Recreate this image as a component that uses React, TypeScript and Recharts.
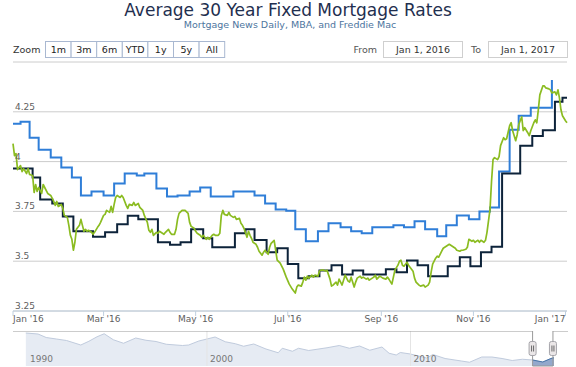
import { LineChart, Line, XAxis, YAxis, CartesianGrid, AreaChart, Area, ReferenceLine, ReferenceDot } from 'recharts'

const FONT = '"DejaVu Sans", Verdana, sans-serif'

// x = days since Jan 1, 2016
const monthTicks = [0, 60, 121, 182, 244, 305, 366]
const monthLabels = ["Jan '16", "Mar '16", "May '16", "Jul '16", "Sep '16", "Nov '16", "Jan '17"]
const rateTicks = [3.25, 3.5, 3.75, 4, 4.25, 4.5]

// MBA weekly (blue), Freddie Mac weekly (black) – step series, [day, rate]
const mbaSeries: [number, number][] = [
  [0, 4.19], [5, 4.2], [11, 4.12], [17, 4.06], [25, 4.02], [32, 3.97], [39, 3.92], [45, 3.83], [52, 3.85], [60, 3.83],
  [67, 3.89], [74, 3.94], [82, 3.93], [87, 3.94], [95, 3.865], [102, 3.825], [109, 3.83], [117, 3.85], [124, 3.87], [131, 3.825],
  [146, 3.85], [160, 3.83], [167, 3.79], [174, 3.76], [181, 3.753], [187, 3.66], [194, 3.6], [202, 3.65], [209, 3.69], [217, 3.67],
  [224, 3.65], [231, 3.64], [238, 3.67], [252, 3.68], [259, 3.67], [266, 3.7], [273, 3.66], [281, 3.625], [287, 3.68], [294, 3.73],
  [302, 3.71], [309, 3.75], [316, 3.77], [322, 3.95], [329, 4.16], [335, 4.23], [343, 4.27], [357, 4.41],
]

const freddieSeries: [number, number][] = [
  [0, 3.965], [13, 3.92], [18, 3.81], [26, 3.79], [33, 3.725], [40, 3.65], [53, 3.623], [61, 3.645], [69, 3.686], [76, 3.728],
  [83, 3.71], [96, 3.595], [104, 3.583], [111, 3.595], [118, 3.66], [126, 3.615], [132, 3.57], [147, 3.64], [154, 3.66], [160, 3.606],
  [168, 3.545], [175, 3.565], [182, 3.486], [189, 3.415], [196, 3.425], [203, 3.453], [211, 3.48], [218, 3.433], [225, 3.453], [232, 3.433],
  [247, 3.46], [254, 3.445], [261, 3.503], [268, 3.48], [275, 3.425], [288, 3.475], [296, 3.52], [303, 3.475], [310, 3.545], [317, 3.573],
  [324, 3.94], [336, 4.08], [344, 4.128], [351, 4.158], [359, 4.3], [364, 4.32], [367, 4.32],
]

// Mortgage News Daily (green), daily
const mndSeries: [number, number][] = [
  [0, 4.09], [1, 4.03], [2, 4.04], [3, 3.96], [5, 3.98], [6, 3.95], [7, 3.965], [9, 3.94], [10, 3.965], [11, 3.935],
  [13, 3.93], [14, 3.845], [15, 3.885], [16, 3.85], [17, 3.87], [19, 3.84], [20, 3.885], [21, 3.87], [23, 3.84], [25, 3.83],
  [27, 3.8], [28, 3.78], [29, 3.8], [30, 3.775], [32, 3.785], [33, 3.765], [34, 3.73], [36, 3.72], [37, 3.68], [38, 3.63],
  [39, 3.61], [40, 3.555], [41, 3.595], [42, 3.66], [44, 3.68], [45, 3.71], [46, 3.68], [47, 3.65], [48, 3.66], [49, 3.65],
  [50, 3.655], [52, 3.645], [53, 3.635], [54, 3.645], [56, 3.67], [57, 3.68], [58, 3.695], [60, 3.73], [61, 3.735], [62, 3.755],
  [64, 3.745], [65, 3.775], [66, 3.745], [67, 3.785], [68, 3.82], [69, 3.83], [71, 3.82], [72, 3.83], [73, 3.82], [75, 3.78],
  [76, 3.765], [77, 3.785], [79, 3.78], [80, 3.795], [81, 3.78], [83, 3.79], [84, 3.77], [86, 3.755], [87, 3.73], [89, 3.695],
  [90, 3.655], [91, 3.645], [92, 3.66], [93, 3.63], [95, 3.645], [96, 3.64], [97, 3.65], [99, 3.64], [100, 3.635], [101, 3.645],
  [103, 3.66], [104, 3.645], [105, 3.635], [107, 3.635], [108, 3.66], [109, 3.71], [110, 3.74], [112, 3.755], [113, 3.755], [114, 3.755],
  [116, 3.74], [117, 3.695], [118, 3.675], [120, 3.665], [121, 3.65], [122, 3.64], [124, 3.63], [125, 3.62], [126, 3.63], [128, 3.61],
  [129, 3.62], [130, 3.61], [132, 3.63], [133, 3.635], [134, 3.63], [136, 3.63], [137, 3.64], [138, 3.73], [139, 3.755], [140, 3.735],
  [142, 3.73], [143, 3.745], [144, 3.73], [146, 3.72], [147, 3.725], [148, 3.71], [150, 3.715], [151, 3.69], [152, 3.68], [153, 3.665],
  [155, 3.62], [156, 3.65], [157, 3.63], [158, 3.615], [159, 3.595], [161, 3.585], [162, 3.57], [163, 3.55], [165, 3.53], [166, 3.545],
  [167, 3.555], [169, 3.535], [170, 3.57], [171, 3.59], [173, 3.605], [174, 3.555], [175, 3.505], [177, 3.49], [179, 3.46], [181, 3.42],
  [183, 3.385], [185, 3.36], [187, 3.34], [188, 3.37], [189, 3.38], [191, 3.375], [192, 3.395], [193, 3.42], [194, 3.405], [195, 3.425],
  [196, 3.415], [198, 3.43], [199, 3.42], [200, 3.43], [202, 3.425], [203, 3.45], [204, 3.455], [206, 3.455], [207, 3.45], [208, 3.455],
  [210, 3.41], [211, 3.375], [212, 3.38], [214, 3.395], [215, 3.38], [216, 3.41], [218, 3.38], [219, 3.405], [220, 3.43], [222, 3.4],
  [223, 3.395], [224, 3.42], [226, 3.37], [227, 3.395], [228, 3.415], [230, 3.425], [231, 3.415], [232, 3.42], [234, 3.41], [235, 3.415],
  [236, 3.405], [237, 3.41], [239, 3.42], [240, 3.43], [241, 3.41], [243, 3.425], [244, 3.42], [245, 3.415], [247, 3.41], [248, 3.42],
  [249, 3.41], [251, 3.385], [252, 3.42], [253, 3.455], [255, 3.48], [256, 3.5], [257, 3.505], [258, 3.48], [259, 3.475], [261, 3.495],
  [262, 3.48], [263, 3.47], [265, 3.45], [266, 3.415], [267, 3.395], [269, 3.38], [270, 3.375], [272, 3.38], [273, 3.37], [275, 3.38],
  [276, 3.395], [277, 3.445], [278, 3.485], [280, 3.515], [281, 3.525], [282, 3.52], [284, 3.55], [285, 3.565], [286, 3.57], [288, 3.58],
  [289, 3.585], [290, 3.58], [292, 3.57], [293, 3.565], [294, 3.555], [296, 3.55], [297, 3.555], [298, 3.555], [300, 3.56], [301, 3.57],
  [302, 3.61], [304, 3.6], [305, 3.605], [306, 3.595], [308, 3.605], [309, 3.595], [310, 3.605], [312, 3.595], [313, 3.605], [314, 3.645],
  [316, 3.76], [317, 3.9], [318, 4.01], [319, 4.02], [321, 4.01], [322, 4.025], [323, 4.08], [325, 4.12], [326, 4.11], [327, 4.115],
  [329, 4.18], [330, 4.195], [331, 4.155], [333, 4.105], [334, 4.135], [335, 4.185], [337, 4.225], [338, 4.155], [339, 4.17], [341, 4.145],
  [342, 4.13], [343, 4.155], [345, 4.195], [346, 4.21], [347, 4.195], [348, 4.26], [349, 4.335], [351, 4.38], [352, 4.38], [353, 4.37],
  [355, 4.365], [356, 4.36], [357, 4.345], [359, 4.35], [360, 4.335], [361, 4.36], [362, 4.32], [363, 4.26], [364, 4.23], [366, 4.205],
  [367, 4.195],
]

// navigator: long-term history, [year, rate]
const navSeries: [number, number][] = [
  [1991.1, 9.25], [1991.7, 9.05], [1992.1, 8.35], [1992.6, 8.05], [1993.1, 7.75], [1993.8, 6.85], [1994.2, 7.6], [1994.6, 8.5],
  [1994.95, 9.1], [1995.4, 7.9], [1995.9, 7.2], [1996.5, 8.25], [1997.0, 7.8], [1997.5, 7.55], [1998.0, 7.0], [1998.8, 6.75],
  [1999.1, 6.85], [1999.6, 7.65], [2000.4, 8.45], [2000.9, 7.5], [2001.4, 7.1], [2001.8, 6.6], [2002.3, 7.05], [2002.9, 6.05],
  [2003.5, 5.3], [2003.7, 6.2], [2004.2, 5.6], [2004.5, 6.2], [2005.0, 5.75], [2005.9, 6.3], [2006.5, 6.75], [2007.0, 6.2],
  [2007.5, 6.65], [2008.0, 5.8], [2008.6, 6.45], [2008.95, 5.2], [2009.3, 4.85], [2009.5, 5.35], [2010.0, 5.05], [2010.8, 4.25],
  [2011.1, 4.95], [2011.7, 4.15], [2012.5, 3.65], [2012.9, 3.4], [2013.5, 4.45], [2014.0, 4.45], [2014.5, 4.15], [2015.0, 3.75],
  [2015.5, 4.0], [2016.0, 3.85], [2016.5, 3.45], [2016.9, 4.15], [2017.05, 4.3],
]
const navLabelYears = [1990, 2000, 2010]
const navDomain: [number, number] = [1990.47, 2017.74]
const navRateDomain: [number, number] = [2.65, 9.65]
const rangeFrom = 2016
const rangeTo = 2017

const zoomButtons = ['1m', '3m', '6m', 'YTD', '1y', '5y', 'All']
const fromLabel = 'Jan 1, 2016'
const toLabel = 'Jan 1, 2017'

const toRows = (s: [number, number][]) => s.map(([day, rate]) => ({ day, rate }))
const navRows = navSeries.map(([year, rate]) => ({ year, rate }))
const navSelected = navRows.filter((r) => r.year >= rangeFrom - 0.1)

function RateTick({ x, y, payload }: any) {
  if (payload.value >= 4.5) return null
  return (
    <text x={x + 2} y={y - 2} fill="#606060" fontSize={9} fontFamily={FONT}>
      {payload.value}
    </text>
  )
}

function MonthTick({ x, y, payload }: any) {
  const i = monthTicks.indexOf(payload.value)
  const anchor = i === 0 ? 'start' : i === monthTicks.length - 1 ? 'end' : 'middle'
  return (
    <text x={x} y={y} dy="0.71em" textAnchor={anchor} fill="#606060" fontSize={9} fontFamily={FONT}>
      {monthLabels[i]}
    </text>
  )
}

function YearTick({ x, y, payload }: any) {
  // first label is pushed inside the navigator, like Highstock does
  return (
    <text x={Math.max(x, 27) + 3} y={y - 4} fill="#777" fontSize={9} fontFamily={FONT}>
      {payload.value}
    </text>
  )
}

function Handle({ cx, cy }: any) {
  return (
    <g>
      <rect x={cx - 3.5} y={cy - 7} width={7} height={14} rx={2} fill="#ebe7e8" stroke="#a5a4aa" />
      <line x1={cx - 1} x2={cx - 1} y1={cy - 3} y2={cy + 3} stroke="#666" />
      <line x1={cx + 1} x2={cx + 1} y1={cy - 3} y2={cy + 3} stroke="#666" />
    </g>
  )
}

function Header() {
  const btnX = 45
  const btnW = 25.6
  return (
    <svg width={576} height={64} style={{ position: 'absolute', left: 0, top: 0 }} fontFamily={FONT}>
      <text x={288} y={15.5} textAnchor="middle" fontSize={17} fill="#1f2f4f">
        Average 30 Year Fixed Mortgage Rates
      </text>
      <text x={290} y={28} textAnchor="middle" fontSize={9.5} fill="#4d759e">
        Mortgage News Daily, MBA, and Freddie Mac
      </text>
      <text x={13} y={53} fontSize={9.5} fill="#333">Zoom</text>
      {zoomButtons.map((b, i) => (
        <g key={b}>
          <rect x={btnX + i * btnW + 0.5} y={41.5} width={btnW} height={16} fill="#fff" stroke="#a9b8d1" />
          <text x={btnX + i * btnW + btnW / 2 + 0.5} y={53} textAnchor="middle" fontSize={9.5} fill="#222">{b}</text>
        </g>
      ))}
      <text x={377} y={53} textAnchor="end" fontSize={9.5} fill="#555">From</text>
      <rect x={383.5} y={41.5} width={79} height={16} fill="#fff" stroke="#cfcfcf" />
      <text x={423} y={53} textAnchor="middle" fontSize={9.5} fill="#333">{fromLabel}</text>
      <text x={471} y={53} fontSize={9.5} fill="#555">To</text>
      <rect x={488.5} y={41.5} width={79} height={16} fill="#fff" stroke="#cfcfcf" />
      <text x={528} y={53} textAnchor="middle" fontSize={9.5} fill="#333">{toLabel}</text>
    </svg>
  )
}

export default function App() {
  const [navLo, navHi] = navRateDomain
  const navMid = (navLo + navHi) / 2
  return (
    <div style={{ position: 'absolute', left: 0, top: 0, width: 576, height: 367, background: '#fff', fontFamily: FONT, overflow: 'hidden' }}>
      <div style={{ position: 'absolute', left: 0, top: 0 }}>
        <LineChart width={576} height={331} margin={{ top: 62, right: 9, bottom: 0, left: 0 }}>
          <CartesianGrid vertical={false} stroke="#cccccc" />
          <XAxis
            dataKey="day"
            type="number"
            domain={[0, 367]}
            ticks={monthTicks}
            interval={0}
            height={20}
            stroke="#c0d0e0"
            tickSize={5}
            tickMargin={0}
            tick={<MonthTick />}
          />
          <YAxis
            type="number"
            domain={[3.25, 4.5]}
            ticks={rateTicks}
            interval={0}
            width={13}
            axisLine={false}
            tickLine={false}
            tickSize={0}
            tickMargin={0}
            tick={<RateTick />}
          />
          <Line data={toRows(mbaSeries)} dataKey="rate" type="stepAfter" stroke="#2f7ed8" strokeWidth={2} dot={false} isAnimationActive={false} />
          <Line data={toRows(freddieSeries)} dataKey="rate" type="stepAfter" stroke="#0d233a" strokeWidth={2} dot={false} isAnimationActive={false} />
          <Line data={toRows(mndSeries)} dataKey="rate" type="linear" stroke="#8bbc21" strokeWidth={1.7} strokeLinejoin="round" dot={false} isAnimationActive={false} />
        </LineChart>
      </div>
      <div style={{ position: 'absolute', left: 0, top: 331 }}>
        <AreaChart width={576} height={36} margin={{ top: 0, right: 8, bottom: 0, left: 13 }}>
          <XAxis
            dataKey="year"
            type="number"
            domain={navDomain}
            ticks={navLabelYears}
            interval={0}
            allowDataOverflow
            height={1}
            axisLine={false}
            tickLine={false}
            tickSize={0}
            tickMargin={0}
            tick={<YearTick />}
          />
          <YAxis type="number" domain={navRateDomain} hide />
          {navLabelYears
            .filter((y) => y > navDomain[0])
            .map((y) => (
              <ReferenceLine key={y} x={y} stroke="#e4e4e4" />
            ))}
          <Area data={navRows} dataKey="rate" type="linear" fill="#e6ebf3" fillOpacity={1} stroke="#c0cbdd" strokeWidth={1} isAnimationActive={false} />
          <Area data={navSelected} dataKey="rate" type="linear" fill="#93a8cc" fillOpacity={1} stroke="#4572a7" strokeWidth={1} isAnimationActive={false} />
          <ReferenceLine segment={[{ x: navDomain[0], y: navHi }, { x: rangeFrom, y: navHi }]} stroke="#999" ifOverflow="visible" />
          <ReferenceLine segment={[{ x: rangeFrom, y: navHi }, { x: rangeFrom, y: navLo }]} stroke="#999" ifOverflow="visible" />
          <ReferenceLine segment={[{ x: rangeFrom, y: navLo }, { x: rangeTo, y: navLo }]} stroke="#999" ifOverflow="visible" />
          <ReferenceLine segment={[{ x: rangeTo, y: navLo }, { x: rangeTo, y: navHi }]} stroke="#999" ifOverflow="visible" />
          <ReferenceLine segment={[{ x: rangeTo, y: navHi }, { x: navDomain[1], y: navHi }]} stroke="#999" ifOverflow="visible" />
          <ReferenceDot x={rangeFrom} y={navMid} shape={<Handle />} ifOverflow="visible" />
          <ReferenceDot x={rangeTo} y={navMid} shape={<Handle />} ifOverflow="visible" />
        </AreaChart>
      </div>
      <Header />
    </div>
  )
}
